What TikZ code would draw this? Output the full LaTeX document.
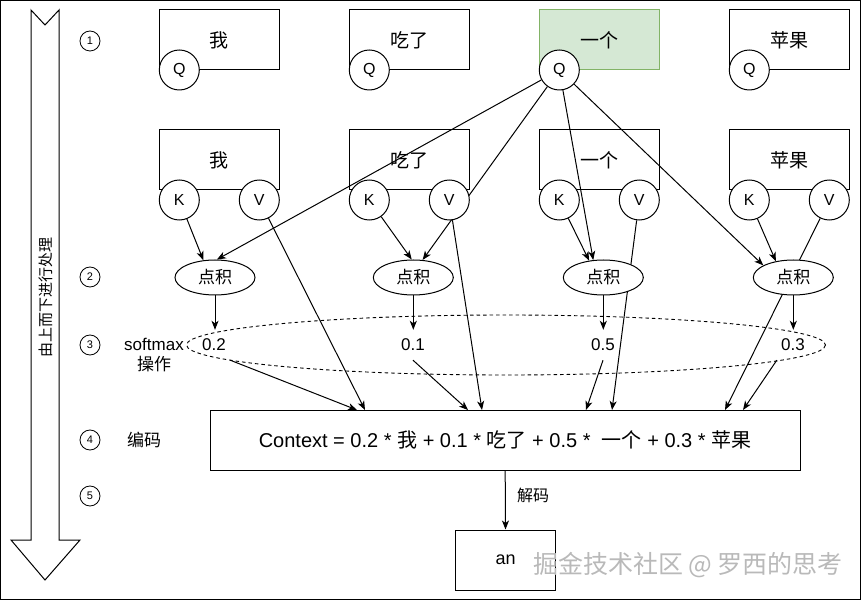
\documentclass[tikz,border=0pt]{standalone}
\usepackage{fontspec}
\setmainfont{Liberation Sans}
\newfontfamily\cjk{Noto Sans CJK SC}
\usetikzlibrary{arrows.meta,shapes.geometric,calc}
\pgfdeclarelayer{bg}
\pgfdeclarelayer{edges}
\pgfsetlayers{bg,edges,main}
\definecolor{gfill}{HTML}{D5E8D4}
\definecolor{gline}{HTML}{82B366}
\begin{document}
\begin{tikzpicture}[x=1pt,y=-1pt,
  every node/.style={font=\fontsize{17}{20}\selectfont},
  wordbox/.style={draw, line width=1pt, minimum width=120pt, minimum height=60pt, inner sep=0pt, fill=white, font=\fontsize{19}{22}\selectfont\cjk},
  cnode/.style={draw, circle, line width=1pt, minimum size=40pt, inner sep=0pt, fill=white, font=\fontsize{16}{18}\selectfont},
  dotnode/.style={draw, ellipse, line width=1pt, minimum width=80pt, minimum height=35pt, inner sep=0pt, fill=white, font=\fontsize{17}{20}\selectfont\cjk},
  valnode/.style={minimum width=32pt, minimum height=30pt, inner sep=0pt},
  numc/.style={draw, circle, line width=0.8pt, minimum size=20pt, inner sep=0pt, font=\fontsize{11}{12}\selectfont},
  arr/.style={line width=1pt, -{Stealth[length=9pt,width=7pt,inset=2.5pt]}},
  plain/.style={line width=1pt}
]
\useasboundingbox (0,0) rectangle (862,601);

\begin{pgfonlayer}{bg}
  \draw[line width=1.2pt] (0.6,0.6) rectangle (860.6,599.6);
  \draw[line width=1pt, fill=white] (31,10) -- (45,25) -- (59,10) -- (59,540) -- (80,540) -- (45,580) -- (11,540) -- (31,540) -- cycle;
  \node[rotate=90, font=\fontsize{15}{17}\selectfont\cjk] (dir) at (45.5,298) {由上而下进行处理};
  % top row
  \node[wordbox] (t1) at (219.3,40) {我};
  \node[wordbox] (t2) at (409.3,40) {吃了};
  \node[wordbox, fill=gfill, draw=gline] (t3) at (599.3,40) {一个};
  \node[wordbox] (t4) at (789.3,40) {苹果};
  % second row
  \node[wordbox] (b1) at (219.3,160) {我};
  \node[wordbox] (b2) at (409.3,160) {吃了};
  \node[wordbox] (b3) at (599.3,160) {一个};
  \node[wordbox] (b4) at (789.3,160) {苹果};
\end{pgfonlayer}

% circles
\node[cnode] (q1) at (179.3,70) {Q};
\node[cnode] (q2) at (369.3,70) {Q};
\node[cnode] (q3) at (559.3,70) {Q};
\node[cnode] (q4) at (749.3,70) {Q};
\node[cnode] (k1) at (179.3,200) {K};
\node[cnode] (w1) at (259.3,200) {V};
\node[cnode] (k2) at (369.3,200) {K};
\node[cnode] (w2) at (449.3,200) {V};
\node[cnode] (k3) at (559.3,200) {K};
\node[cnode] (w3) at (639.3,200) {V};
\node[cnode] (k4) at (749.3,200) {K};
\node[cnode] (w4) at (829.3,200) {V};

% dot products
\node[dotnode] (e1) at (215,277.5) {点积};
\node[dotnode] (e2) at (413.3,277.5) {点积};
\node[dotnode] (e3) at (603.3,277.5) {点积};
\node[dotnode] (e4) at (793.3,277.5) {点积};

% softmax values
\draw[line width=0.9pt, dash pattern=on 3.5pt off 3pt] (506,345) ellipse [x radius=319.5, y radius=30];
\node[valnode] (s1) at (214,345) {0.2};
\node[valnode] (s2) at (413,345) {0.1};
\node[valnode] (s3) at (603,345) {0.5};
\node[valnode] (s4) at (793,345) {0.3};

% context and decode
\node[draw, line width=1pt, minimum width=590pt, minimum height=60pt, inner sep=0pt, fill=white, font=\fontsize{20}{24}\selectfont] (ctx) at (505,440)
  {Context = 0.2 * {\cjk 我} + 0.1 * {\cjk 吃了} + 0.5 *\ \ {\cjk 一个} + 0.3 * {\cjk 苹果}};
\node[draw, line width=1pt, minimum width=100pt, minimum height=60pt, inner sep=0pt, fill=white, font=\fontsize{18}{20}\selectfont] (an) at (505.7,560) {an};
\node[font=\fontsize{16}{18}\selectfont\cjk] (jm) at (533,495) {解码};

% left labels
\node[numc] (n1) at (90,41) {1};
\node[numc] (n2) at (90,277) {2};
\node[numc] (n3) at (90,345) {3};
\node[numc] (n4) at (90,440) {4};
\node[numc] (n5) at (90,496) {5};
\node[align=center, font=\fontsize{17}{20}\selectfont] (sm) at (154,355) {softmax\\{\cjk 操作}};
\node[font=\fontsize{17}{20}\selectfont\cjk] (bm) at (144,440) {编码};

% watermark
\node[font=\fontsize{25}{27}\selectfont\cjk, text=gray!55] (wm) at (688,565) {掘金技术社区 @ 罗西的思考};

% target points on the context box
\coordinate (cA) at (357,410);
\coordinate (cB) at (365,410);
\coordinate (cC) at (468,410);
\coordinate (cD) at (482,410);
\coordinate (cE) at (586,410);
\coordinate (cF) at (612,410);
\coordinate (cG) at (725,410);
\coordinate (cH) at (743,410);

\begin{pgfonlayer}{edges}
  % to dot products
  \draw[arr] (k1) -- (e1.124);
  \draw[arr] (q3) -- (e1.84);
  \draw[arr] (k2) -- (e2.95);
  \draw[arr] (q3) -- (e2.62);
  \draw[arr] (k3) -- (e3.130);
  \draw[arr] (q3) -- (e3.120);
  \draw[arr] (q3) -- (e4.158);
  \draw[arr] (k4) -- (e4.137);
  % V to context
  \draw[arr] (w1) -- (cB);
  \draw[arr] (w2) -- (cD);
  \draw[arr] (w3) -- (cF);
  \draw[arr] (w4) -- (cG);
  % dot products to values
  \draw[arr] (e1.south) -- (e1.south |- s1.north);
  \draw[arr] (e2.south) -- (e2.south |- s2.north);
  \draw[arr] (e3.south) -- (e3.south |- s3.north);
  \draw[arr] (e4.south) -- (e4.south |- s4.north);
  % values to context
  \draw[arr] (s1.south east) -- (cA);
  \draw[arr] (s2.south) -- (cC);
  \draw[arr] (s3.south) -- (cE);
  \draw[arr] (s4.south west) -- (cH);
  % decode
  \draw[arr] (ctx) -- (an);
\end{pgfonlayer}
\end{tikzpicture}
\end{document}
